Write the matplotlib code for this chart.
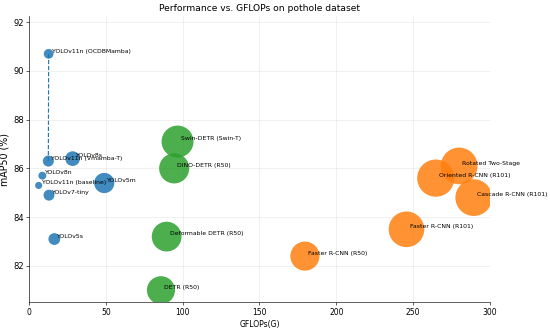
import matplotlib
matplotlib.use('Agg')
import matplotlib.pyplot as plt

# Modelos, GFLOPs, mAP50 e parametros (tamanho das bolhas)
yolo_nomes  = ['YOLOv11n (OCDBMamba)', 'YOLOv11n (Vmamba-T)', 'YOLOv8s', 'YOLOv8n',
               'YOLOv11n (baseline)', 'YOLOv7-tiny', 'YOLOv5m', 'YOLOv5s']
yolo_gflops = [12.8, 12.6, 28.4, 8.7, 6.3, 13.0, 49.0, 16.5]
yolo_map    = [90.7, 86.3, 86.4, 85.7, 85.3, 84.9, 85.4, 83.1]
yolo_params = [4.9, 6.3, 11.2, 3.2, 2.6, 6.2, 21.2, 7.2]

detr_nomes  = ['Swin-DETR (Swin-T)', 'DINO-DETR (R50)', 'Deformable DETR (R50)', 'DETR (R50)']
detr_gflops = [96.7, 94.5, 89.6, 85.9]
detr_map    = [87.1, 86.0, 83.2, 81.0]
detr_params = [53, 47, 46, 41]

rcnn_nomes  = ['Faster R-CNN (R50)', 'Faster R-CNN (R101)', 'Oriented R-CNN (R101)',
               'Rotated Two-Stage', 'Cascade R-CNN (R101)']
rcnn_gflops = [179.6, 245.7, 264.8, 280.0, 289.5]
rcnn_map    = [82.4, 83.5, 85.6, 86.1, 84.8]
rcnn_params = [44, 66, 72, 70, 70]

fig = plt.figure(figsize=(10, 5.964), dpi=55)
ax = fig.add_axes([0.0527, 0.078, 0.838, 0.873])

grupos = [
    (yolo_nomes, yolo_gflops, yolo_map, yolo_params, 'tab:blue'),
    (detr_nomes, detr_gflops, detr_map, detr_params, 'tab:green'),
    (rcnn_nomes, rcnn_gflops, rcnn_map, rcnn_params, 'tab:orange'),
]

# Ligacao entre baseline Mamba e OCDBMamba
ax.plot(yolo_gflops[:2], yolo_map[:2], '--', color='tab:blue', linewidth=1.5, zorder=2)

for nomes, gf, mp, par, cor in grupos:
    ax.scatter(gf, mp, s=[p * 10 * 3.3 for p in par], color=cor, alpha=0.85,
               edgecolors='none', zorder=3)
    for n, x, y in zip(nomes, gf, mp):
        ax.text(x + 2, y + 0.05, n, fontsize=8, zorder=4)

ax.set_xlim(0, 300)
ax.set_ylim(80.5, 92.25)
ax.set_yticks([82, 84, 86, 88, 90, 92])
ax.tick_params(axis='y', labelsize=11)
ax.grid(True, alpha=0.3)
ax.set_axisbelow(True)
ax.spines['top'].set_visible(False)
ax.spines['right'].set_visible(False)
ax.set_xlabel('GFLOPs(G)')
ax.set_ylabel('mAP50 (%)', fontsize=12.5)
ax.set_title('Performance vs. GFLOPs on pothole dataset', fontsize=12)

fig.savefig('out.png', dpi=55)
